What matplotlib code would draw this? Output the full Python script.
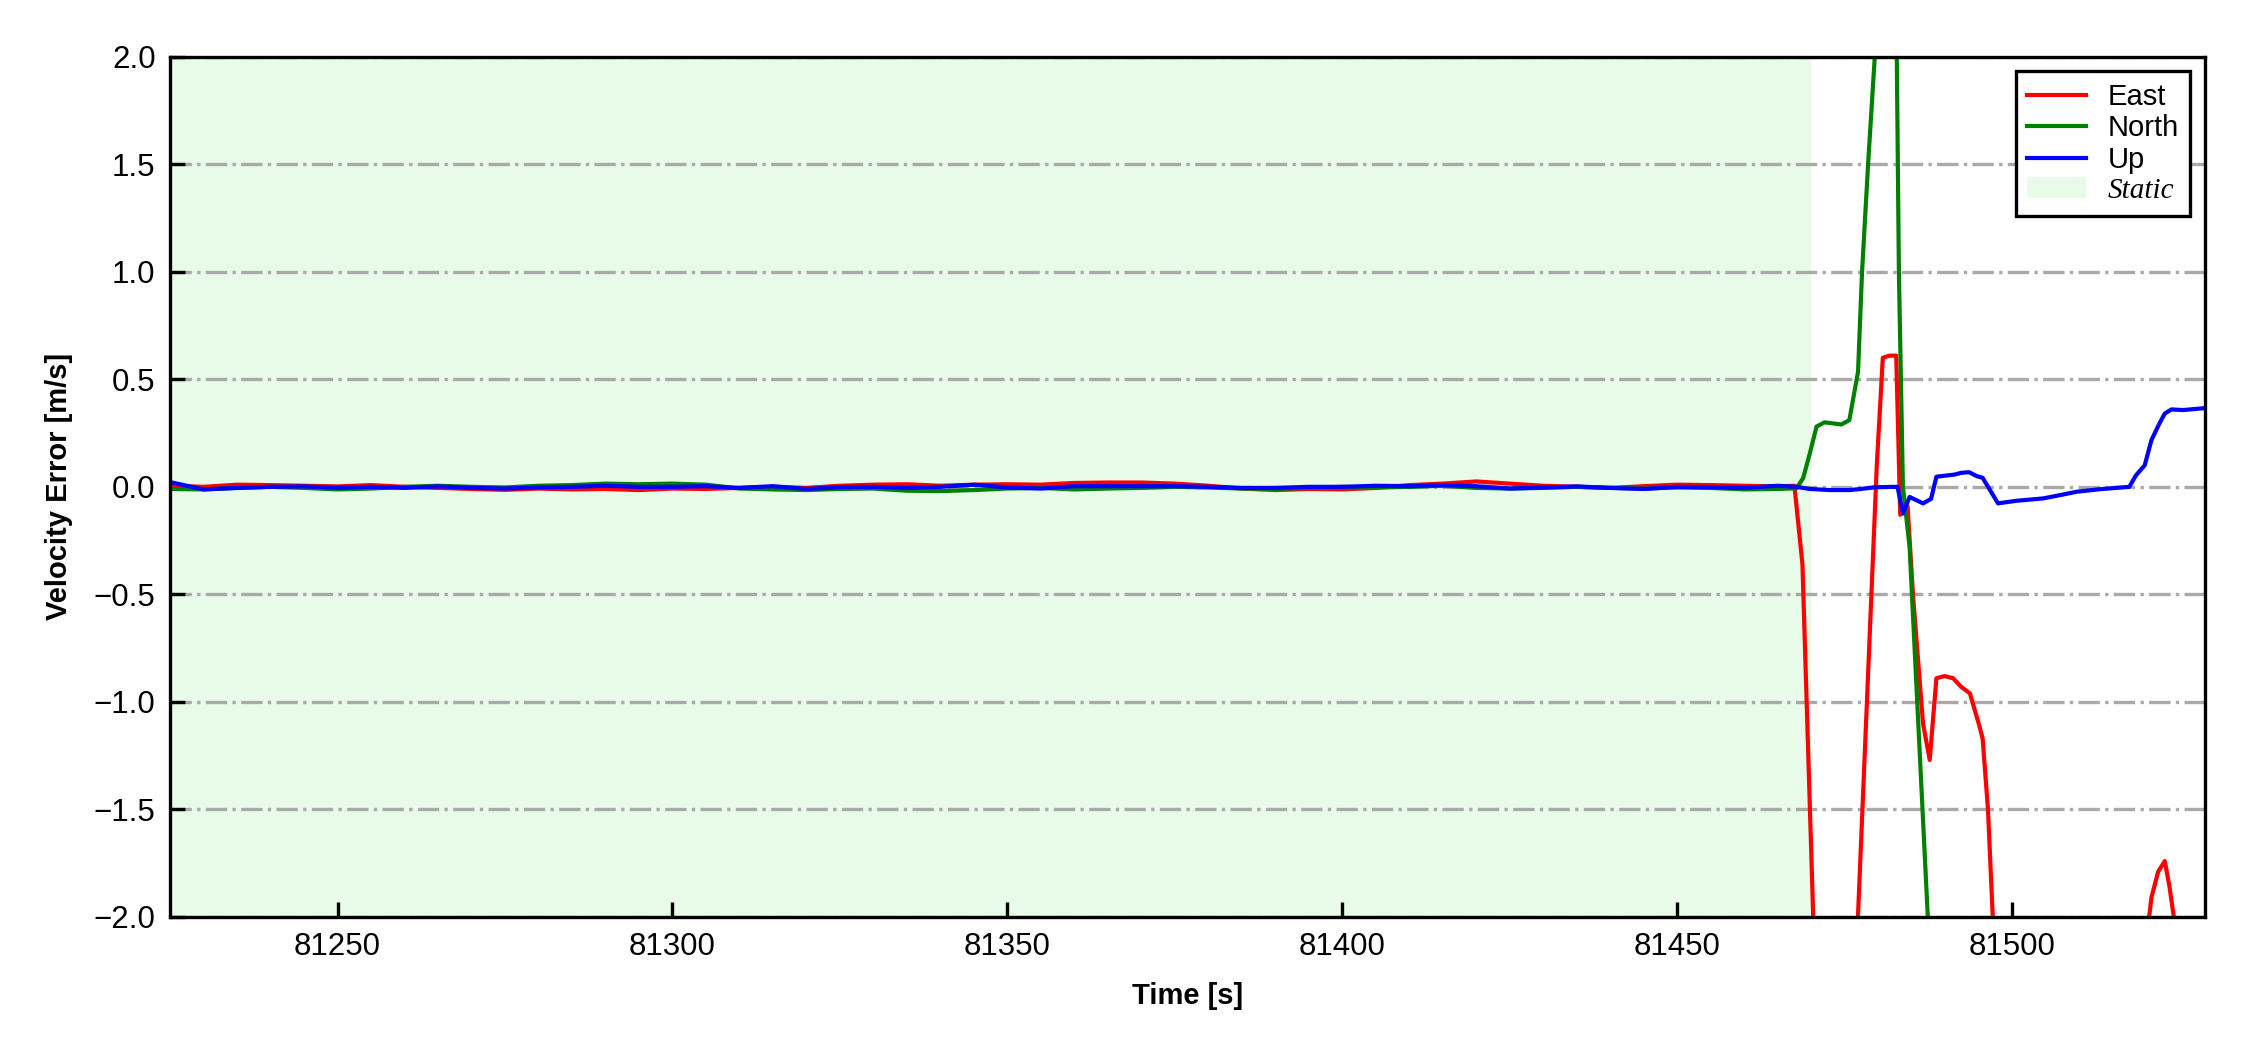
import numpy as np
import matplotlib
matplotlib.use('Agg')
import matplotlib.pyplot as plt

plt.rcParams['font.family'] = ['Liberation Sans', 'DejaVu Sans']

# ---- data ------------------------------------------------------------------
# static part, 5 s steps
t_static = np.arange(81225, 81466, 5)

east_static = [0.005, 0.0, 0.01, 0.008, 0.005, 0.002, 0.008, 0.0, -0.005, -0.01,
               -0.014, -0.008, -0.012, -0.01, -0.015, -0.008, -0.01, -0.005, 0.0, -0.005,
               0.005, 0.01, 0.012, 0.005, 0.01, 0.012, 0.01, 0.018, 0.02, 0.02,
               0.015, 0.005, -0.008, -0.015, -0.01, -0.012, -0.005, 0.008, 0.015, 0.025,
               0.015, 0.005, 0.0, -0.005, 0.003, 0.01, 0.008, 0.005, 0.002]
north_static = [-0.01, -0.012, -0.005, 0.0, -0.005, -0.012, -0.008, 0.0, 0.005, 0.0,
                -0.003, 0.005, 0.008, 0.015, 0.012, 0.015, 0.01, -0.008, -0.012, -0.015,
                -0.01, -0.008, -0.018, -0.02, -0.015, -0.008, -0.005, -0.012, -0.008, -0.005,
                0.0, -0.003, -0.008, -0.01, -0.005, 0.0, -0.003, 0.0, 0.005, -0.005,
                -0.008, -0.005, 0.0, -0.005, -0.008, -0.003, -0.005, -0.012, -0.01]
up_static = [0.022, -0.012, -0.005, 0.0, 0.002, -0.005, 0.0, -0.005, 0.002, -0.005,
             -0.008, -0.003, 0.0, 0.005, 0.0, 0.0, 0.003, -0.005, 0.003, -0.01,
             -0.002, 0.0, -0.005, 0.0, 0.01, -0.003, -0.008, 0.003, 0.003, 0.003,
             0.003, 0.0, -0.005, -0.005, 0.0, 0.0, 0.005, 0.003, 0.008, 0.003,
             -0.008, -0.003, 0.002, -0.005, -0.01, 0.0, -0.002, -0.005, 0.005]

# moving part
t_east = [81467.5, 81468.7, 81470.3, 81473.0, 81477.0, 81479.8, 81480.7, 81481.7,
          81482.7, 81483.3, 81484.4, 81485.2, 81486.7, 81487.7, 81488.7, 81489.9,
          81491.2, 81492.4, 81493.7, 81495.1, 81495.6, 81496.4, 81497.1, 81508.0,
          81520.5, 81520.8, 81521.8, 81522.8, 81523.5, 81524.1, 81528.8]
v_east = [0.005, -0.36, -1.99, -4.0, -1.99, 0.1, 0.60, 0.61,
          0.61, -0.13, -0.09, -0.5, -1.10, -1.27, -0.89, -0.88,
          -0.89, -0.93, -0.96, -1.11, -1.17, -1.50, -1.99, -3.5,
          -1.99, -1.91, -1.79, -1.74, -1.86, -1.99, -3.0]

t_north = [81467.8, 81468.8, 81469.8, 81470.8, 81472.0, 81474.5, 81475.7, 81477.0,
           81477.6, 81478.5, 81479.5, 81481.0, 81482.0, 81483.1, 81483.7, 81484.7,
           81487.4, 81490.0, 81528.8]
v_north = [-0.007, 0.04, 0.155, 0.28, 0.30, 0.29, 0.31, 0.535,
           1.0, 1.5, 2.0, 2.8, 4.5, 1.0, 0.0, -0.28,
           -1.99, -3.6, -6.0]

t_up = [81467.8, 81469.8, 81472.8, 81475.7, 81477.4, 81479.5, 81482.5, 81482.9,
        81483.7, 81484.7, 81486.7, 81487.9, 81488.7, 81491.4, 81492.4, 81493.6,
        81494.7, 81495.6, 81497.9, 81500.6, 81504.6, 81507.1, 81509.6, 81513.1,
        81517.5, 81518.5, 81519.8, 81520.8, 81522.0, 81522.8, 81523.8, 81525.5, 81528.8]
v_up = [0.0, -0.01, -0.015, -0.015, -0.01, -0.002, 0.0, 0.0,
        -0.124, -0.047, -0.077, -0.056, 0.047, 0.057, 0.065, 0.068,
        0.05, 0.042, -0.077, -0.065, -0.054, -0.039, -0.023, -0.011,
        0.0, 0.054, 0.10, 0.217, 0.295, 0.341, 0.36, 0.357, 0.366]

static_end = 81470
x_range = (81225, 81528.8)

east_t = np.concatenate([t_static, t_east])
east_v = np.concatenate([east_static, v_east])
north_t = np.concatenate([t_static, t_north])
north_v = np.concatenate([north_static, v_north])
up_t = np.concatenate([t_static, t_up])
up_v = np.concatenate([up_static, v_up])

# ---- plot -------------------------------------------------------------------
fig = plt.figure(figsize=(7.5, 3.5), dpi=300)
ax = fig.add_axes([0.0756, 0.1267, 0.9044, 0.8193])

ax.plot(east_t, east_v, color='r', lw=1.0, label='East')
ax.plot(north_t, north_v, color='g', lw=1.0, label='North')
ax.plot(up_t, up_v, color='b', lw=1.0, label='Up')
ax.axvspan(x_range[0], static_end, color='lightgreen', alpha=0.2, lw=0, label='Static')

ax.set_xlim(*x_range)
ax.set_ylim(-2.0, 2.0)
ax.set_yticks(np.arange(-2.0, 2.01, 0.5))
ax.set_xticks([81250, 81300, 81350, 81400, 81450, 81500])
ax.yaxis.grid(True, linestyle='-.', color='darkgray', lw=0.8)
ax.set_axisbelow('line')

ax.tick_params(direction='in', labelsize=7.5, length=3.5, width=0.8)
for s in ax.spines.values():
    s.set_linewidth(0.8)

ax.set_xlabel('Time [s]', fontsize=7, fontweight='bold', labelpad=5)
ax.set_ylabel('Velocity Error [m/s]', fontsize=7, fontweight='bold', labelpad=5)

leg = ax.legend(loc='upper right', fontsize=7, fancybox=False, framealpha=1,
                edgecolor='black', labelspacing=0.12, borderpad=0.4,
                handlelength=2.0, handletextpad=0.75, borderaxespad=0.5)
leg.get_frame().set_linewidth(0.8)
st = leg.get_texts()[3]
st.set_fontfamily(['Liberation Serif', 'DejaVu Serif'])
st.set_fontstyle('italic')

fig.savefig('out.png', dpi=300)
